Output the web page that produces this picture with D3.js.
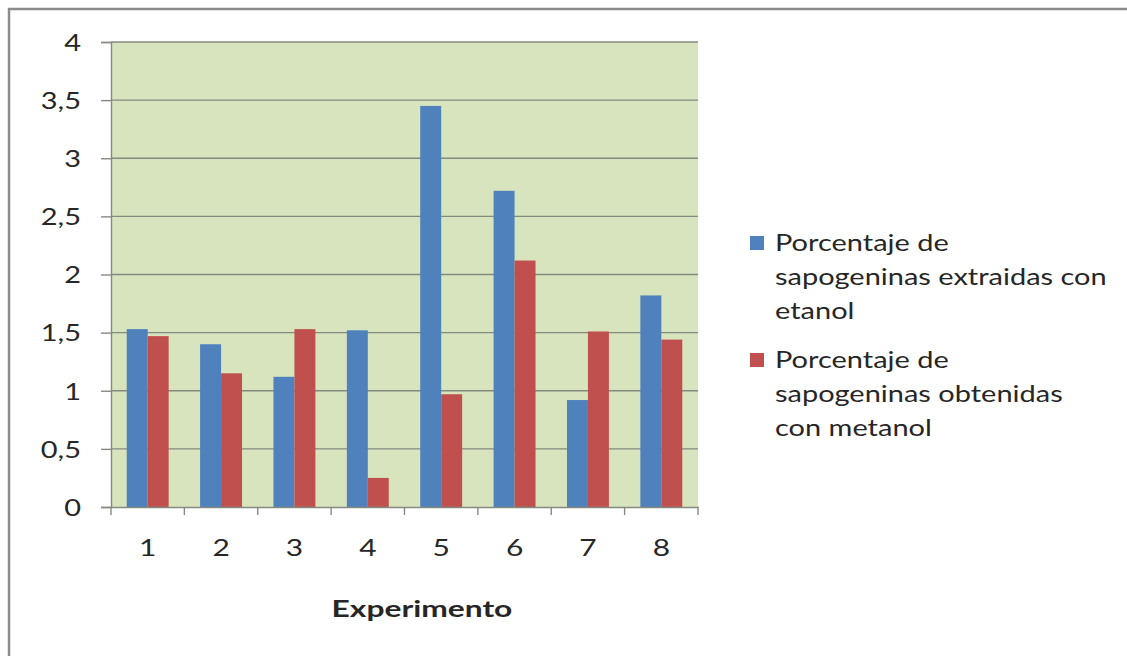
<!DOCTYPE html>
<html>
<head>
<meta charset="utf-8">
<script src="https://cdn.jsdelivr.net/npm/d3@7"></script>
<style>
  html, body { margin: 0; padding: 0; background: #fff; }
  svg { display: block; }
  text { font-family: Lato, "Open Sans", "DejaVu Sans", sans-serif; fill: #262626; }
</style>
</head>
<body>
<svg id="chart" width="1127" height="656"></svg>
<script>
// Experiment numbers on the x axis
const categories = ["1", "2", "3", "4", "5", "6", "7", "8"];
// Percentage of sapogenins per experiment
const etanolValues = [1.53, 1.40, 1.12, 1.52, 3.45, 2.72, 0.92, 1.82];
const metanolValues = [1.47, 1.15, 1.53, 0.25, 0.97, 2.12, 1.51, 1.44];
const seriesNames = [
  ["Porcentaje de", "sapogeninas extraidas con", "etanol"],
  ["Porcentaje de", "sapogeninas obtenidas", "con metanol"]
];
const seriesColors = ["#4F81BD", "#C0504D"];
const yTicks = [0, 0.5, 1, 1.5, 2, 2.5, 3, 3.5, 4];
const xTitle = "Experimento";

const FONT = 23;

// widen glyphs horizontally around each text's anchor point
function stretch(sel, sx) {
  sel.each(function () {
    const t = d3.select(this);
    const x0 = +(t.attr("x") || 0);
    t.attr("x", x0 / sx).attr("transform", `scale(${sx},1)`);
  });
}

const svg = d3.select("#chart");

// outer chart frame (only top and left edges fall inside the view)
svg.append("rect")
  .attr("x", 9).attr("y", 9)
  .attr("width", 1200).attr("height", 700)
  .attr("fill", "#fff")
  .attr("stroke", "#8c8c8c").attr("stroke-width", 2.5);

const plot = { left: 111, right: 698, top: 42, bottom: 507 };

const x = d3.scaleBand()
  .domain(categories)
  .range([plot.left, plot.right])
  .paddingInner(0).paddingOuter(0);

const xs = d3.scaleBand()
  .domain([0, 1])
  .range([0, x.bandwidth()])
  .paddingInner(0).paddingOuter(0.75);

const y = d3.scaleLinear()
  .domain([0, 4])
  .range([plot.bottom, plot.top]);

// plot area background
svg.append("rect")
  .attr("x", plot.left).attr("y", plot.top)
  .attr("width", plot.right - plot.left)
  .attr("height", plot.bottom - plot.top)
  .attr("fill", "#D7E4BD");

// horizontal gridlines
svg.append("g")
  .selectAll("line")
  .data(yTicks.filter(d => d > 0))
  .join("line")
  .attr("x1", plot.left).attr("x2", plot.right)
  .attr("y1", d => y(d)).attr("y2", d => y(d))
  .attr("stroke", "#858a80").attr("stroke-width", 1.4);

// bars
const data = categories.map((c, i) => ({ c, vals: [etanolValues[i], metanolValues[i]] }));
const groups = svg.append("g")
  .selectAll("g")
  .data(data)
  .join("g")
  .attr("transform", d => `translate(${x(d.c)},0)`);

groups.selectAll("rect")
  .data(d => d.vals.map((v, k) => ({ v, k })))
  .join("rect")
  .attr("x", d => xs(d.k))
  .attr("width", xs.bandwidth())
  .attr("y", d => y(d.v))
  .attr("height", d => y(0) - y(d.v))
  .attr("fill", d => seriesColors[d.k]);

// y axis
const yAxis = svg.append("g")
  .attr("transform", `translate(${plot.left},0)`)
  .call(d3.axisLeft(y).tickValues(yTicks).tickSize(10).tickPadding(20)
    .tickFormat(d => String(d).replace(".", ",")));
yAxis.select(".domain").attr("stroke", "#858a80").attr("stroke-width", 1.4);
yAxis.selectAll(".tick line").attr("stroke", "#858a80").attr("stroke-width", 1.4);
yAxis.selectAll(".tick text")
  .attr("font-size", FONT).attr("fill", "#262626").attr("dy", "0.36em")
  .call(stretch, 1.26);

// x axis
const xAxis = svg.append("g")
  .attr("transform", `translate(0,${plot.bottom})`)
  .call(d3.axisBottom(x).tickSize(0).tickPadding(33));
xAxis.select(".domain").attr("stroke", "#858a80").attr("stroke-width", 1.4);
xAxis.selectAll(".tick text").attr("font-size", FONT).attr("fill", "#262626")
  .call(stretch, 1.3);

// tick marks on category boundaries
const bounds = categories.map(c => x(c)).concat([plot.right]);
svg.append("g")
  .selectAll("line")
  .data(bounds)
  .join("line")
  .attr("x1", d => d).attr("x2", d => d)
  .attr("y1", plot.bottom).attr("y2", plot.bottom + 8)
  .attr("stroke", "#858a80").attr("stroke-width", 1.4);

// x axis title
svg.append("text")
  .attr("x", 422).attr("y", 617)
  .attr("text-anchor", "middle")
  .attr("font-size", FONT).attr("font-weight", "bold")
  .text(xTitle)
  .call(stretch, 1.38);

// legend
const legend = svg.append("g");
const legendTop = [251, 368];
seriesNames.forEach((lines, k) => {
  legend.append("rect")
    .attr("x", 750).attr("y", legendTop[k] - 15)
    .attr("width", 14).attr("height", 14)
    .attr("fill", seriesColors[k]);
  lines.forEach((ln, j) => {
    legend.append("text")
      .attr("x", 775).attr("y", legendTop[k] + j * 34)
      .attr("font-size", FONT)
      .text(ln)
      .call(stretch, 1.26);
  });
});
</script>
</body>
</html>
